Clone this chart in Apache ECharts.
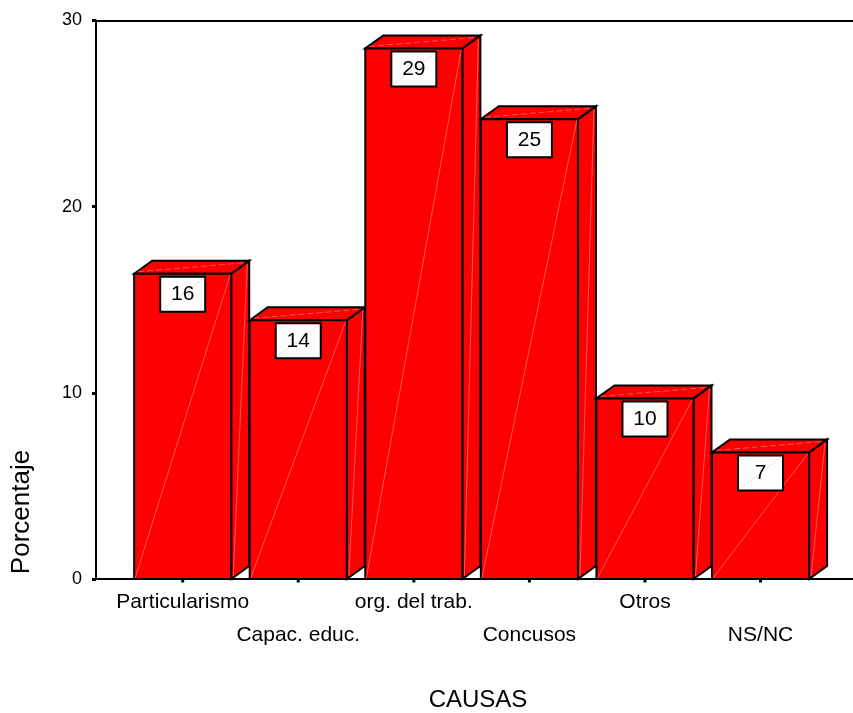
<!DOCTYPE html>
<html>
<head>
<meta charset="utf-8">
<script src="https://cdn.jsdelivr.net/npm/echarts@6/dist/echarts.min.js"></script>
<style>
  html, body { margin: 0; padding: 0; background: #fff; }
  #chart { width: 853px; height: 713px; }
</style>
</head>
<body>
<div id="chart"></div>
<script>
// Causes and their percentage share
const categories = ['Particularismo', 'Capac. educ.', 'org. del trab.', 'Concusos', 'Otros', 'NS/NC'];
const percentages = [16.4, 13.9, 28.5, 24.7, 9.7, 6.8];
const yTicks = [0, 10, 20, 30];

const FONT = '"Liberation Sans", Arial, Helvetica, sans-serif';
const HALF_WIDTH = 0.42;   // half of a bar's front face, in category units
const DEPTH_X = 18;        // 3D depth offset, pixels
const DEPTH_Y = 13;

const chart = echarts.init(document.getElementById('chart'), null, { renderer: 'canvas' });

function renderBar(params, api) {
  const i = api.value(0);
  const v = api.value(1);
  const bl = api.coord([i - HALF_WIDTH, 0]);
  const tr = api.coord([i + HALF_WIDTH, v]);
  const x0 = bl[0], y0 = bl[1], x1 = tr[0], yt = tr[1];
  const dx = DEPTH_X, dy = DEPTH_Y;
  const edge = { stroke: '#000', lineWidth: 2, lineJoin: 'miter' };
  const faint = { stroke: 'rgba(255,180,180,0.6)', lineWidth: 0.8, fill: null };
  const cx = (x0 + x1) / 2;
  const boxW = 45, boxH = 35, boxTop = yt + 3;
  const children = [
    // side face
    { type: 'polygon', shape: { points: [[x1, y0], [x1 + dx, y0 - dy], [x1 + dx, yt - dy], [x1, yt]] },
      style: Object.assign({ fill: '#ff0000' }, edge) },
    // top face
    { type: 'polygon', shape: { points: [[x0, yt], [x0 + dx, yt - dy], [x1 + dx, yt - dy], [x1, yt]] },
      style: Object.assign({ fill: '#ff0000' }, edge) },
    // front face
    { type: 'rect', shape: { x: x0, y: yt, width: x1 - x0, height: y0 - yt },
      style: Object.assign({ fill: '#ff0000' }, edge) },
    // faint shading strokes
    { type: 'line', shape: { x1: x0 + 1, y1: y0 - 1, x2: x1 - 1, y2: yt + 1 }, style: faint, silent: true },
    { type: 'line', shape: { x1: x0 + 4, y1: yt - 2, x2: x1 + dx - 4, y2: yt - dy + 2 },
      style: Object.assign({ lineDash: [6, 3] }, faint), silent: true },
    { type: 'line', shape: { x1: x1 + dx - 2, y1: yt - dy + 3, x2: x1 + 2, y2: y0 - 3 }, style: faint, silent: true },
    // value box
    { type: 'rect', shape: { x: cx - boxW / 2, y: boxTop, width: boxW, height: boxH },
      style: { fill: '#fff', stroke: '#000', lineWidth: 2 } },
    { type: 'line', shape: { x1: cx - boxW / 2 + 2, y1: boxTop + boxH - 2, x2: cx + boxW / 2 - 2, y2: boxTop + 2 },
      style: { stroke: 'rgba(255,170,170,0.6)', lineWidth: 0.8 }, silent: true },
    { type: 'text', style: { text: String(Math.round(v)), x: cx, y: boxTop + boxH / 2 + 0.5,
      align: 'center', verticalAlign: 'middle', font: '21px ' + FONT, fill: '#000' } },
    // category tick mark under the axis
    { type: 'rect', shape: { x: cx - 1.5, y: y0, width: 3, height: 3.5 }, style: { fill: '#000' } },
    // category label (staggered rows)
    { type: 'text', style: { text: categories[i], x: cx, y: y0 + (i % 2 === 0 ? 23 : 56),
      align: 'center', verticalAlign: 'middle', font: '21px ' + FONT, fill: '#000' } }
  ];
  return { type: 'group', children: children };
}

const option = {
  animation: false,
  backgroundColor: '#fff',
  grid: { left: 96, right: 0, top: 20.5, bottom: 134 },
  xAxis: [
    { type: 'value', position: 'bottom', min: -0.75, max: 5.8,
      axisLine: { show: true, onZero: false, lineStyle: { color: '#000', width: 2 } },
      axisTick: { show: false }, axisLabel: { show: false }, splitLine: { show: false } },
    { type: 'value', position: 'top', min: -0.75, max: 5.8,
      axisLine: { show: true, onZero: false, lineStyle: { color: '#000', width: 2 } },
      axisTick: { show: false }, axisLabel: { show: false }, splitLine: { show: false } }
  ],
  yAxis: {
    type: 'value', position: 'left', min: yTicks[0], max: yTicks[yTicks.length - 1], interval: 10,
    axisLine: { show: true, onZero: false, lineStyle: { color: '#000', width: 2 } },
    axisTick: { show: true, inside: false, length: 4, lineStyle: { color: '#000', width: 3 } },
    axisLabel: { color: '#000', fontSize: 18, fontFamily: 'Liberation Sans', margin: 14,
      formatter: function (val) { return yTicks.indexOf(val) >= 0 ? String(val) : ''; } },
    splitLine: { show: false }
  },
  graphic: [
    { type: 'text', x: 22, y: 512, rotation: Math.PI / 2,
      style: { text: 'Porcentaje', font: '26px ' + FONT, fill: '#000', align: 'center', verticalAlign: 'middle' } },
    { type: 'text', x: 478, y: 700,
      style: { text: 'CAUSAS', font: '24px ' + FONT, fill: '#000', align: 'center', verticalAlign: 'middle' } }
  ],
  series: [{
    type: 'custom',
    xAxisIndex: 0,
    renderItem: renderBar,
    clip: false,
    data: percentages.map(function (p, i) { return [i, p]; })
  }]
};

chart.setOption(option);
</script>
</body>
</html>
